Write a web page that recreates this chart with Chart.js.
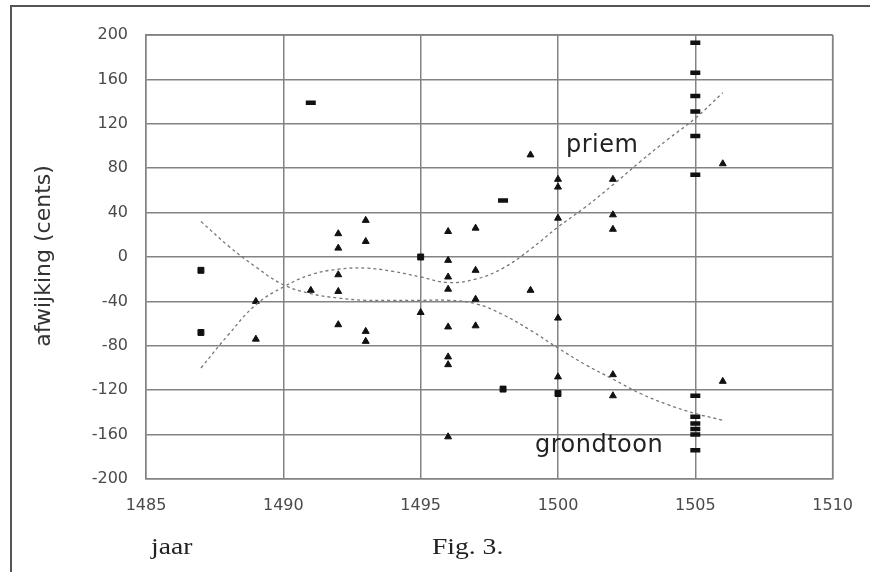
<!DOCTYPE html>
<html><head><meta charset="utf-8">
<script src="https://cdn.jsdelivr.net/npm/chart.js@4"></script>
<style>
html,body{margin:0;padding:0;background:#fff;}
#wrap{position:relative;width:870px;height:572px;overflow:hidden;background:#fff;}
canvas{position:absolute;left:0;top:0;}
#frame{position:absolute;left:10px;top:5px;width:880px;height:580px;border-top:2px solid #555;border-left:2px solid #555;}
.t{position:absolute;white-space:nowrap;color:#222;}
#ytitle{font-family:'DejaVu Sans';font-size:22px;line-height:24px;width:300px;text-align:center;left:-107px;top:244px;transform:rotate(-90deg);color:#333;}
#priem{font-family:'DejaVu Sans';font-size:24px;line-height:24px;left:566px;top:132px;letter-spacing:0.5px;}
#grond{font-family:'DejaVu Sans';font-size:24px;line-height:24px;left:535px;top:432px;letter-spacing:0.5px;}
#jaar{font-family:'Liberation Serif';font-size:23px;line-height:23px;left:151px;top:535px;transform:scaleX(1.2);transform-origin:0 0;}
#fig{font-family:'Liberation Serif';font-size:23px;line-height:23px;left:432px;top:535px;transform:scaleX(1.2);transform-origin:0 0;}
</style></head><body>
<div id="wrap">
<canvas id="c" width="870" height="572"></canvas>
<div id="frame"></div>
<div class="t" id="ytitle">afwijking (cents)</div>
<div class="t" id="priem">priem</div>
<div class="t" id="grond">grondtoon</div>
<div class="t" id="jaar">jaar</div>
<div class="t" id="fig">Fig. 3.</div>
</div>
<script>
// measured points (triangle markers)
const triYears  = [1489,1489,1491,1492,1492,1492,1492,1492,1493,1493,1493,1493,1495,1496,1496,1496,1496,1496,1496,1496,1496,1497,1497,1497,1497,1499,1499,1500,1500,1500,1500,1500,1502,1502,1502,1502,1502,1506,1506];
const triValues = [-40,-74,-30,21,8,-16,-31,-61,33,14,-67,-76,-50,23,-3,-18,-29,-63,-90,-97,-162,26,-12,-38,-62,92,-30,70,63,35,-55,-108,70,38,25,-106,-125,84,-112];
// square markers
const sqYears  = [1487,1487,1495,1498,1500];
const sqValues = [-12,-68,0,-119,-123];
// dash markers
const dashYears  = [1491,1498,1505,1505,1505,1505,1505,1505,1505,1505,1505,1505,1505,1505];
const dashValues = [139,51,193,166,145,131,109,74,-125,-144,-150,-155,-160,-174];
// trend curves
const curveYears = [1487,1488,1489,1490,1491,1492,1493,1494,1495,1496,1497,1498,1499,1500,1501,1502,1503,1504,1505,1506];
const priemCurve = [-100,-70,-43,-27,-16,-11,-10,-13,-18,-23,-20,-10,7,27,45,65,86,106,125,148];
const grondCurve = [32,10,-9,-25,-33,-37,-39,-39,-39,-39,-42,-52,-66,-82,-97,-110,-123,-133,-141,-147];
const xTicks = [1485,1490,1495,1500,1505,1510];
const yTicks = [-200,-160,-120,-80,-40,0,40,80,120,160,200];

const pts = (xs, ys) => xs.map((x, i) => ({x: x, y: ys[i]}));
const gridCol = '#838383';
const tickFont = {family: 'DejaVu Sans', size: 16};

new Chart(document.getElementById('c').getContext('2d'), {
  type: 'scatter',
  data: {
    datasets: [
      {label: 'priem', type: 'line', data: pts(curveYears, priemCurve), borderColor: '#777', borderWidth: 1.3, borderDash: [3, 3], pointRadius: 0, tension: 0.4, fill: false},
      {label: 'grondtoon', type: 'line', data: pts(curveYears, grondCurve), borderColor: '#777', borderWidth: 1.3, borderDash: [3, 3], pointRadius: 0, tension: 0.4, fill: false},
      {label: 'tri', data: pts(triYears, triValues), pointStyle: 'triangle', pointRadius: 4, backgroundColor: '#111', borderColor: '#111', borderWidth: 1},
      {label: 'sq', data: pts(sqYears, sqValues), pointStyle: 'rect', pointRadius: 4.2, backgroundColor: '#111', borderColor: '#111', borderWidth: 1},
      {label: 'dash', data: pts(dashYears, dashValues), pointStyle: 'line', pointRadius: 5, borderColor: '#111', backgroundColor: '#111', borderWidth: 4.5}
    ]
  },
  options: {
    responsive: false,
    animation: false,
    plugins: {legend: {display: false}, tooltip: {enabled: false}},
    layout: {padding: {left: 0, right: 34, top: 35, bottom: 0}},
    scales: {
      x: {
        type: 'linear', min: xTicks[0], max: xTicks[xTicks.length - 1],
        afterBuildTicks: s => { s.ticks = xTicks.map(v => ({value: v})); },
        ticks: {callback: v => String(v), font: tickFont, color: '#4a4a4a', padding: 17, maxRotation: 0},
        grid: {color: gridCol, lineWidth: 1.5, drawTicks: false},
        border: {color: gridCol, width: 1.5},
        afterFit: s => { s.height = 93; }
      },
      y: {
        type: 'linear', min: yTicks[0], max: yTicks[yTicks.length - 1],
        afterBuildTicks: s => { s.ticks = yTicks.map(v => ({value: v})); },
        ticks: {callback: v => String(v), font: tickFont, color: '#4a4a4a', padding: 18},
        grid: {color: gridCol, lineWidth: 1.5, drawTicks: false},
        border: {color: gridCol, width: 1.5},
        afterFit: s => { s.width = 146; }
      }
    }
  },
  plugins: [{
    id: 'rightBorder',
    afterDraw(chart) {
      const a = chart.chartArea, c = chart.ctx;
      c.save(); c.strokeStyle = gridCol; c.lineWidth = 1.5;
      c.beginPath(); c.moveTo(a.right, a.top); c.lineTo(a.right, a.bottom); c.moveTo(a.left, a.top); c.lineTo(a.right, a.top); c.stroke();
      c.restore();
    }
  }]
});
</script>
</body></html>
